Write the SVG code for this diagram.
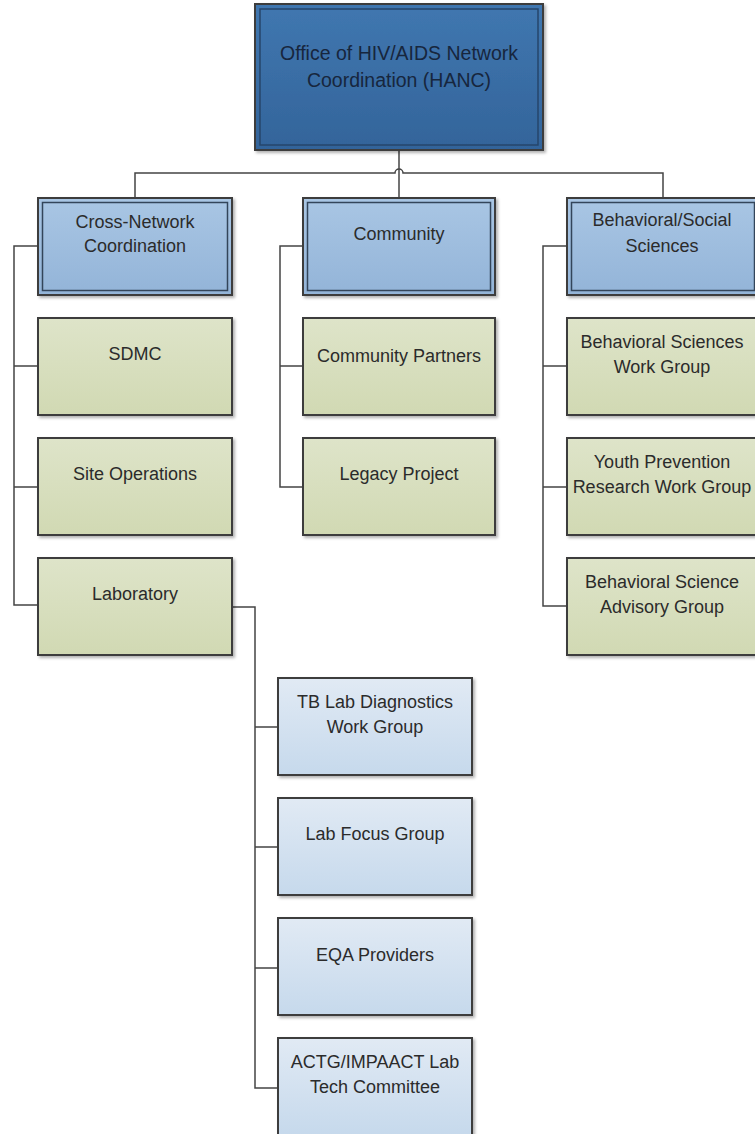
<svg xmlns="http://www.w3.org/2000/svg" width="755" height="1134" viewBox="0 0 755 1134">
<defs>
<linearGradient id="gTop" x1="0" y1="0" x2="0" y2="1"><stop offset="0" stop-color="#4077b0"/><stop offset="1" stop-color="#33649a"/></linearGradient>
<linearGradient id="gL2" x1="0" y1="0" x2="0" y2="1"><stop offset="0" stop-color="#a9c6e4"/><stop offset="1" stop-color="#93b4d8"/></linearGradient>
<linearGradient id="gGreen" x1="0" y1="0" x2="0" y2="1"><stop offset="0" stop-color="#dee4c9"/><stop offset="1" stop-color="#d1d9b3"/></linearGradient>
<linearGradient id="gLight" x1="0" y1="0" x2="0" y2="1"><stop offset="0" stop-color="#e1eaf4"/><stop offset="1" stop-color="#c6d9ec"/></linearGradient>
<filter id="sh" x="-10%" y="-10%" width="130%" height="130%"><feDropShadow dx="2" dy="2" stdDeviation="1.5" flood-color="#000" flood-opacity="0.3"/></filter>
</defs>
<style>
.t{font-family:"Liberation Sans",Arial,sans-serif;font-size:18px;fill:#2b2b2b;text-anchor:middle}
.tt{font-family:"Liberation Sans",Arial,sans-serif;font-size:19.5px;fill:#17263d;text-anchor:middle}
.o{stroke:#3d3d3d;stroke-width:2}
.i{fill:none;stroke:#33455a;stroke-width:1.5}
.c{fill:none;stroke:#444;stroke-width:1.5}
</style>
<rect width="755" height="1134" fill="#fff"/>
<g id="connectors">
<path class="c" d="M135,198 V173 H395 a4,4 0 0 1 8,0 H663 V198"/>
<path class="c" d="M399,150 V198"/>
<path class="c" d="M38,246 H14 V605 H38 M14,366 H38 M14,487 H38"/>
<path class="c" d="M303,246 H280 V487 H303 M280,366 H303"/>
<path class="c" d="M567,246 H543 V606 H567 M543,366 H567 M543,487 H567"/>
<path class="c" d="M232,607 H255 V1088 H278 M255,727 H278 M255,847 H278 M255,968 H278"/>
</g>
<g id="hanc">
<rect class="o" x="255" y="4" width="288" height="146" fill="url(#gTop)" stroke="#444c56" filter="url(#sh)"/>
<rect x="260" y="9" width="278" height="136" fill="none" stroke="#26466b" stroke-width="1.5"/>
<text class="tt" x="399" y="60">Office of HIV/AIDS Network</text>
<text class="tt" x="399" y="87">Coordination (HANC)</text>
</g>
<g id="crossnetwork">
<rect class="o" x="38" y="198" width="194" height="97" fill="url(#gL2)" filter="url(#sh)"/>
<rect class="i" x="42.5" y="202.5" width="185" height="88"/>
<text class="t" x="135" y="228">Cross-Network</text>
<text class="t" x="135" y="252">Coordination</text>
</g>
<g id="community">
<rect class="o" x="303" y="198" width="192" height="97" fill="url(#gL2)" filter="url(#sh)"/>
<rect class="i" x="307.5" y="202.5" width="183" height="88"/>
<text class="t" x="399" y="240">Community</text>
</g>
<g id="behavioral">
<rect class="o" x="567" y="198" width="192" height="97" fill="url(#gL2)" filter="url(#sh)"/>
<rect class="i" x="571.5" y="202.5" width="183" height="88"/>
<text class="t" x="662" y="226">Behavioral/Social</text>
<text class="t" x="662" y="252">Sciences</text>
</g>
<g id="sdmc">
<rect class="o" x="38" y="318" width="194" height="97" fill="url(#gGreen)" filter="url(#sh)"/>
<text class="t" x="135" y="360">SDMC</text>
</g>
<g id="siteops">
<rect class="o" x="38" y="438" width="194" height="97" fill="url(#gGreen)" filter="url(#sh)"/>
<text class="t" x="135" y="480">Site Operations</text>
</g>
<g id="laboratory">
<rect class="o" x="38" y="558" width="194" height="97" fill="url(#gGreen)" filter="url(#sh)"/>
<text class="t" x="135" y="600">Laboratory</text>
</g>
<g id="communitypartners">
<rect class="o" x="303" y="318" width="192" height="97" fill="url(#gGreen)" filter="url(#sh)"/>
<text class="t" x="399" y="362">Community Partners</text>
</g>
<g id="legacy">
<rect class="o" x="303" y="438" width="192" height="97" fill="url(#gGreen)" filter="url(#sh)"/>
<text class="t" x="399" y="480">Legacy Project</text>
</g>
<g id="bswg">
<rect class="o" x="567" y="318" width="192" height="97" fill="url(#gGreen)" filter="url(#sh)"/>
<text class="t" x="662" y="348">Behavioral Sciences</text>
<text class="t" x="662" y="373">Work Group</text>
</g>
<g id="youth">
<rect class="o" x="567" y="438" width="192" height="97" fill="url(#gGreen)" filter="url(#sh)"/>
<text class="t" x="662" y="468">Youth Prevention</text>
<text class="t" x="662" y="493">Research Work Group</text>
</g>
<g id="bsag">
<rect class="o" x="567" y="558" width="192" height="97" fill="url(#gGreen)" filter="url(#sh)"/>
<text class="t" x="662" y="588">Behavioral Science</text>
<text class="t" x="662" y="613">Advisory Group</text>
</g>
<g id="tblab">
<rect class="o" x="278" y="678" width="194" height="97" fill="url(#gLight)" filter="url(#sh)"/>
<text class="t" x="375" y="708">TB Lab Diagnostics</text>
<text class="t" x="375" y="733">Work Group</text>
</g>
<g id="labfocus">
<rect class="o" x="278" y="798" width="194" height="97" fill="url(#gLight)" filter="url(#sh)"/>
<text class="t" x="375" y="840">Lab Focus Group</text>
</g>
<g id="eqa">
<rect class="o" x="278" y="918" width="194" height="97" fill="url(#gLight)" filter="url(#sh)"/>
<text class="t" x="375" y="961">EQA Providers</text>
</g>
<g id="actg">
<rect class="o" x="278" y="1038" width="194" height="97" fill="url(#gLight)" filter="url(#sh)"/>
<text class="t" x="375" y="1068">ACTG/IMPAACT Lab</text>
<text class="t" x="375" y="1093">Tech Committee</text>
</g>
</svg>
